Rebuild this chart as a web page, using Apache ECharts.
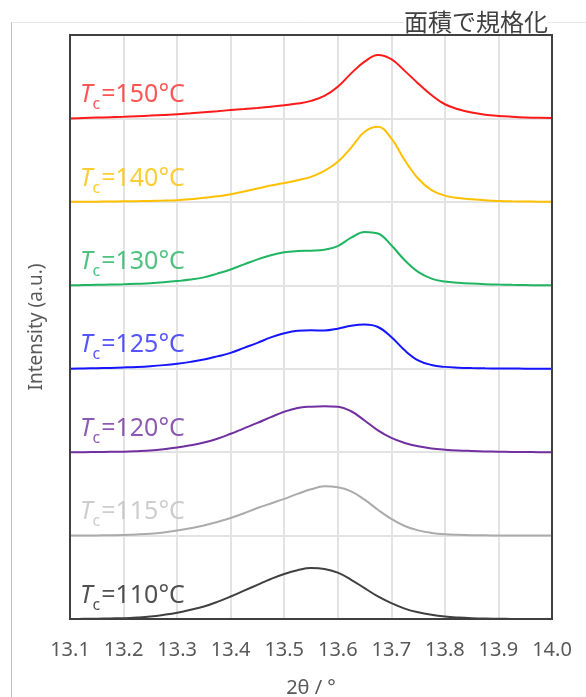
<!DOCTYPE html>
<html>
<head>
<meta charset="utf-8">
<script src="https://cdn.jsdelivr.net/npm/echarts@6/dist/echarts.min.js"></script>
<style>
html,body{margin:0;padding:0;background:#fff;}
#main{width:586px;height:697px;}
</style>
</head>
<body>
<div id="main"></div>
<script>
// 2θ sample positions (degrees), 0.025 step
const theta = [13.100,13.125,13.150,13.175,13.200,13.225,13.250,13.275,13.300,13.325,13.350,13.375,13.400,13.425,13.450,13.475,13.500,13.525,13.550,13.575,13.600,13.625,13.650,13.675,13.700,13.725,13.750,13.775,13.800,13.825,13.850,13.875,13.900,13.925,13.950,13.975,14.000];

// normalized intensities (relative to each trace's own baseline)
const tc110 = [0,0.002,0.004,0.007,0.010,0.018,0.030,0.050,0.075,0.110,0.150,0.205,0.270,0.340,0.410,0.480,0.540,0.585,0.610,0.600,0.555,0.470,0.370,0.270,0.190,0.125,0.080,0.050,0.030,0.018,0.010,0.005,0.003,0.001,0,0,0];
const tc115 = [0,0,0.002,0.004,0.007,0.013,0.022,0.038,0.060,0.088,0.120,0.162,0.210,0.268,0.330,0.385,0.440,0.500,0.555,0.590,0.580,0.530,0.430,0.310,0.200,0.115,0.062,0.032,0.016,0.009,0.005,0.003,0.001,0,0,0,0];
const tc120 = [0,0,0.002,0.004,0.006,0.012,0.020,0.035,0.055,0.082,0.115,0.160,0.220,0.285,0.350,0.420,0.485,0.530,0.545,0.550,0.545,0.490,0.380,0.260,0.170,0.110,0.070,0.045,0.030,0.020,0.014,0.009,0.005,0.003,0.001,0,0];
const tc125 = [0,0.003,0.006,0.010,0.015,0.021,0.030,0.043,0.060,0.082,0.110,0.148,0.190,0.250,0.310,0.375,0.425,0.455,0.460,0.458,0.480,0.515,0.530,0.500,0.380,0.220,0.100,0.045,0.022,0.013,0.008,0.005,0.003,0.002,0.001,0,0];
const tc130 = [0,0.002,0.005,0.008,0.012,0.018,0.025,0.036,0.050,0.068,0.095,0.140,0.190,0.250,0.310,0.360,0.395,0.410,0.415,0.425,0.470,0.570,0.640,0.620,0.480,0.300,0.160,0.080,0.045,0.030,0.020,0.013,0.008,0.005,0.003,0.001,0];
const tc140 = [0,0,0.002,0.004,0.006,0.008,0.011,0.015,0.020,0.032,0.048,0.066,0.090,0.125,0.160,0.195,0.225,0.260,0.300,0.370,0.480,0.650,0.840,0.900,0.760,0.500,0.280,0.140,0.075,0.045,0.030,0.018,0.010,0.006,0.004,0.002,0];
const tc150 = [0,0.005,0.010,0.015,0.020,0.027,0.034,0.042,0.050,0.062,0.075,0.087,0.100,0.112,0.125,0.140,0.158,0.178,0.210,0.270,0.380,0.540,0.680,0.760,0.710,0.570,0.420,0.280,0.170,0.110,0.070,0.045,0.030,0.020,0.012,0.007,0.005];

const temps = ['110','115','120','125','130','140','150'];
const traces = [tc110, tc115, tc120, tc125, tc130, tc140, tc150];

// axis ranges
const xMin = 13.1, xMax = 14.0, xStep = 0.1;
const yMin = 0, yMax = 7, yStep = 1;

const titleText = '面積で規格化';
const xName = '2θ / °';
const yName = 'Intensity (a.u.)';

const lineColors = ['#404040','#ababab','#7030a0','#1515ff','#1fb562','#ffc000','#ff1a1a'];
const textColors = ['#262626','#c0c0c0','#7030a0','#2a2aff','#22b35f','#ffc000','#ff2a2a'];

const FONT = '"Noto Sans", sans-serif';

const series = [];
traces.forEach((vals, i) => {
  series.push({
    type: 'line',
    data: theta.map((t, j) => [t, vals[j] + i]),
    smooth: 0.4,
    symbol: 'none',
    lineStyle: { color: lineColors[i], width: 2 },
    z: 3
  });
  series.push({
    type: 'scatter',
    data: [[xMin, i + 0.25]],
    symbolSize: 0,
    silent: true,
    z: 4,
    label: {
      show: true,
      position: 'right',
      distance: 10,
      formatter: '{t|T}{s|c}{n|=' + temps[i] + '°C}',
      rich: {
        t: { fontFamily: FONT, fontSize: 25, fontStyle: 'italic', color: textColors[i], padding: [0, 0, 5, 0] },
        s: { fontFamily: FONT, fontSize: 16, color: textColors[i], verticalAlign: 'bottom', padding: [0, 1, 0, 0] },
        n: { fontFamily: FONT, fontSize: 25, color: textColors[i], padding: [0, 0, 5, 0] }
      }
    }
  });
});

const chart = echarts.init(document.getElementById('main'), null, { renderer: 'canvas' });
chart.setOption({
  backgroundColor: '#fff',
  animation: false,
  grid: { left: 70, right: 34, top: 35, bottom: 78, outerBoundsMode: 'none', containLabel: false, show: true, borderColor: '#404040', borderWidth: 2, backgroundColor: 'transparent', z: 5 },
  xAxis: {
    type: 'value',
    min: xMin, max: xMax, interval: xStep,
    name: xName, nameLocation: 'middle', nameGap: 59,
    nameTextStyle: { fontFamily: FONT, fontSize: 20, color: '#595959' },
    axisLine: { show: false },
    axisTick: { show: false },
    axisLabel: { fontFamily: FONT, fontSize: 20, color: '#595959', margin: 21, formatter: v => v.toFixed(1) },
    splitLine: { show: true, lineStyle: { color: '#e3e3e3', width: 2 } }
  },
  yAxis: {
    type: 'value',
    min: yMin, max: yMax, interval: yStep,
    name: yName, nameLocation: 'middle', nameGap: 24,
    nameTextStyle: { fontFamily: FONT, fontSize: 19, color: '#595959' },
    axisLine: { show: false },
    axisTick: { show: false },
    axisLabel: { show: false },
    splitLine: { show: true, lineStyle: { color: '#e3e3e3', width: 2 } }
  },
  graphic: [
    { type: 'line', shape: { x1: 11, y1: 22.5, x2: 586, y2: 22.5 }, style: { stroke: '#e6e6e6', lineWidth: 1 }, z: 0 },
    { type: 'line', shape: { x1: 11.5, y1: 22.5, x2: 11.5, y2: 697 }, style: { stroke: '#c0c0c0', lineWidth: 1 }, z: 0 },
    { type: 'text', right: 38, top: 10, z: 10,
      style: { text: titleText, fontFamily: '"Noto Sans CJK JP", sans-serif', fontSize: 24, fill: '#404040', backgroundColor: '#fff' } }
  ],
  series: series
});
</script>
</body>
</html>
